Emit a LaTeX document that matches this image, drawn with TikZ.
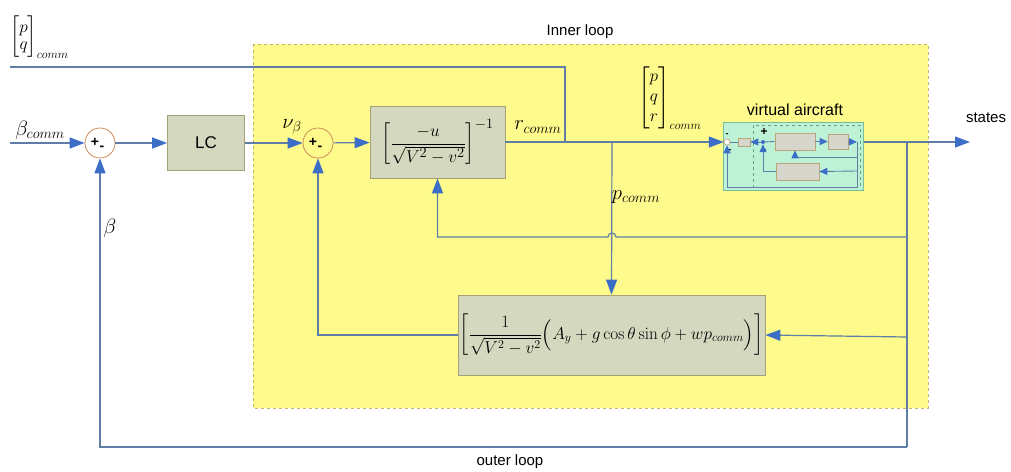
\documentclass[tikz,border=0pt]{standalone}
\usepackage{amsmath}
\usepackage[no-math]{fontspec}
\setmainfont{Liberation Sans}
\usetikzlibrary{arrows.meta}
\definecolor{yfill}{RGB}{255,250,140}
\definecolor{yborder}{RGB}{200,180,110}
\definecolor{bfill}{RGB}{212,216,190}
\definecolor{bborder}{RGB}{165,160,120}
\definecolor{lncol}{RGB}{95,125,165}
\definecolor{arcol}{RGB}{60,110,200}
\definecolor{sumcol}{RGB}{205,140,90}
\definecolor{vafill}{RGB}{190,242,215}
\definecolor{vaborder}{RGB}{120,190,150}
\definecolor{vadash}{RGB}{95,165,120}
\definecolor{sbfill}{RGB}{214,214,204}
\definecolor{sbborder}{RGB}{185,165,120}
\begin{document}
\begin{tikzpicture}[x=1pt,y=-1pt,
  ln/.style={draw=lncol,line width=1.2pt},
  arr/.style={-{Triangle[length=15pt,width=11pt,color=arcol]}},
  sarr/.style={-{Triangle[length=8pt,width=7pt,color=arcol]}},
  blk/.style={draw=bborder,fill=bfill,line width=0.8pt,inner sep=0pt},
  sumc/.style={circle,draw=sumcol,line width=0.8pt,minimum size=30pt,inner sep=0pt},
  sblk/.style={draw=sbborder,fill=sbfill,line width=0.6pt,inner sep=0pt},
  sgn/.style={font=\bfseries\fontsize{14}{14}\selectfont,inner sep=0pt},
  txt/.style={font=\fontsize{15}{18}\selectfont,inner sep=0pt},
  mth/.style={font=\fontsize{17}{20}\selectfont,inner sep=0pt}
]
\useasboundingbox (0,0) rectangle (1011,471);
% inner loop region
\fill[yfill] (253,44) rectangle (928,408);
\draw[yborder,dashed,line width=0.8pt] (253,44) rectangle (928,408);
\node[txt] (innerlbl) at (580,32) {Inner loop};
\node[txt] (outerlbl) at (510,462) {outer loop};

% blocks
\node[sumc,fill=white] (s1) at (100,143) {};
\node[blk,minimum width=77pt,minimum height=55pt,font=\fontsize{17}{20}\selectfont] (lc) at (206,143) {LC};
\node[sumc,fill=yfill] (s2) at (318,143) {};
\node[blk,minimum width=135pt,minimum height=72pt,font=\fontsize{19}{22}\selectfont] (b1) at (437.5,142)
  {$\left[\dfrac{-u}{\sqrt{V^2-v^2}}\right]^{-1}$};
\node[blk,minimum width=307pt,minimum height=80pt,mth] (bot) at (611.5,335)
  {$\left[\dfrac{1}{\sqrt{V^2-v^2}}\Bigl(A_y+g\cos\theta\sin\phi+wp_{comm}\Bigr)\right]$};

% sum signs
\node[sgn] (s1p) at (95,142) {+};
\node[sgn] (s1m) at (102,148) {-};
\node[sgn] (s2p) at (313,142) {+};
\node[sgn] (s2m) at (320,148) {-};

% virtual aircraft
\node[draw=vaborder,fill=vafill,line width=1pt,minimum width=140pt,minimum height=68pt,inner sep=0pt] (va) at (793,156) {};
\node[draw=vadash,dashed,line width=0.8pt,minimum width=107pt,minimum height=62pt,inner sep=0pt] (vain) at (806.5,156) {};
\node[txt,font=\fontsize{16}{19}\selectfont] (valbl) at (795,110) {virtual aircraft};
\node[circle,draw=sumcol,fill=white,minimum size=6pt,inner sep=0pt,line width=0.5pt] (vs1) at (727,142) {};
\node[sblk,minimum width=12pt,minimum height=8pt] (vk) at (744,142) {};
\node[circle,fill=arcol,minimum size=4pt,inner sep=0pt] (vs2) at (763,142) {};
\node[sblk,minimum width=40pt,minimum height=17pt] (va1) at (795,141.5) {};
\node[sblk,minimum width=20pt,minimum height=15pt] (va2) at (838,141.5) {};
\node[sblk,minimum width=43pt,minimum height=17pt] (va3) at (797.5,171.5) {};
\node[font=\bfseries\fontsize{12}{12}\selectfont,inner sep=0pt] (vs2p) at (764,132) {+};
\node[font=\bfseries\small,inner sep=0pt] (vs2m) at (765,151) {-};
\node[font=\bfseries\small,inner sep=0pt] (vs1m) at (727,135) {-};
\node[font=\bfseries\small,inner sep=0pt] (vs1m2) at (730,151) {-};
\coordinate (vr) at (857,142);
\coordinate (vr1) at (857,157);
\coordinate (vr2) at (857,171);
\coordinate (vr3) at (857,187);

\draw[ln,line width=0.9pt,sarr] (vs2) -- (vk.east);
\draw[ln,line width=0.9pt] (vk.west) -- (vs1);
\draw[ln,line width=0.9pt] (vs2) -- (va1.west);
\draw[ln,line width=0.9pt,sarr] (va1) -- (va2);
\draw[ln,line width=0.9pt,sarr] (va2) -- (vr);
\draw[ln,line width=0.9pt] (vr) -- (vr3);
\draw[ln,line width=0.9pt,sarr] (vr1) -| (va1.south);
\draw[ln,line width=0.9pt,sarr] (vr2) -- (va3.east);
\draw[ln,line width=0.9pt,sarr] (va3.west) -| (vs2.south);
\draw[ln,line width=0.9pt,sarr] (vr3) -| (vs1.south);

% coordinates
\coordinate (bin) at (10,143);
\coordinate (pqin) at (10,67);
\coordinate (j1) at (565,142);
\coordinate (j2) at (612,142);
\coordinate (tap) at (907,142);
\coordinate (out) at (970,142);
\coordinate (t1) at (907,237);
\coordinate (t2) at (907,337);
\coordinate (t3) at (907,447);
\coordinate (hop) at (616,237);

% connectors
\draw[ln,arr] (bin) -- (s1);
\draw[ln,arr] (s1) -- (lc);
\draw[ln,arr] (lc) -- (s2);
\draw[ln,arr] (s2) -- (b1);
\draw[ln,arr] (b1.east) -- (vs1.west);
\draw[ln] (pqin) -| (j1);
\draw[ln,arr] (j2) -- (bot.north);
\draw[ln,arr] (va.east |- tap) -- (out);
\draw[ln] (tap) -- (t3);
\draw[ln,arr] (t3) -| (s1.south);
\draw[ln,arr] (t1) -- (hop) arc[start angle=0,end angle=-180,radius=4] -- (b1.south |- t1) -- (b1.south);
\draw[ln,arr] (t2) -- (bot.east);
\draw[ln,arr] (bot.west) -| (s2.south);

% labels
\node[font=\fontsize{22}{24}\selectfont,inner sep=0pt] (lbeta) at (40,130) {$\beta_{comm}$};
\node[font=\fontsize{22}{24}\selectfont,inner sep=0pt] (lb) at (110,228) {$\beta$};
\node[font=\fontsize{22}{24}\selectfont,inner sep=0pt] (lnu) at (292,127) {$\nu_{\beta}$};
\node[font=\fontsize{21}{24}\selectfont,inner sep=0pt] (lr) at (538,127) {$r_{comm}$};
\node[font=\fontsize{21}{24}\selectfont,inner sep=0pt] (lp) at (636,197) {$p_{comm}$};
\node[mth,anchor=west] (lpq) at (10,37) {$\begin{bmatrix}p\\[-3pt] q\end{bmatrix}_{comm}$};
\node[mth,anchor=west] (lpqr) at (638,98) {$\begin{bmatrix}p\\ q\\ r\end{bmatrix}_{comm}$};
\node[txt] (lstates) at (986,118) {states};
\end{tikzpicture}
\end{document}
